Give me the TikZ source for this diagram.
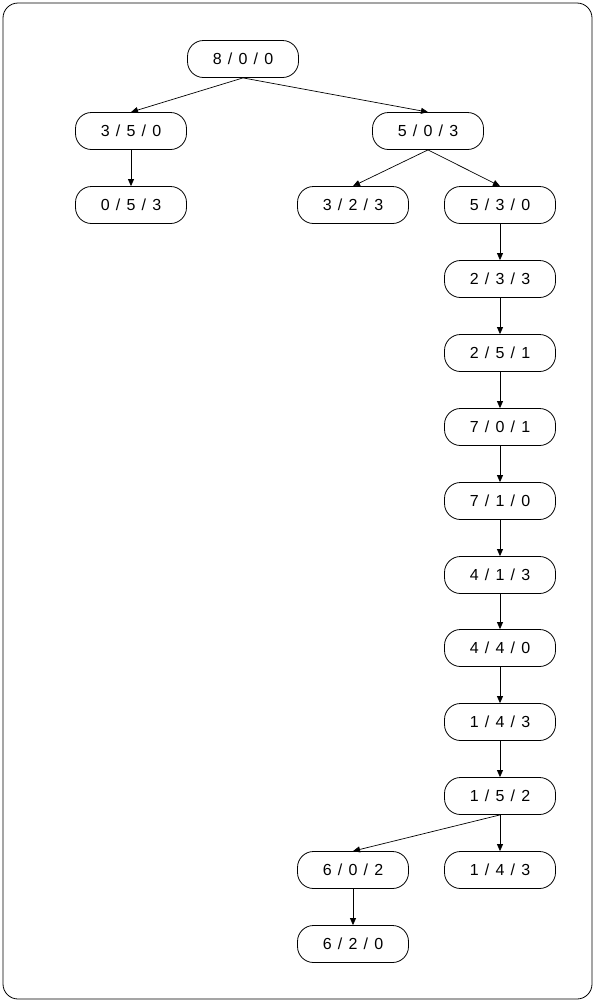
\documentclass[tikz,border=0pt]{standalone}
\usepackage{fontspec}
\setmainfont{Liberation Sans}
\usetikzlibrary{arrows.meta}
\newcommand\slsep{\hspace{6.2pt}/\hspace{6.2pt}}
\tikzset{
  st/.style={draw, line width=0.8pt, rounded corners=16pt, minimum width=111pt, minimum height=37pt, inner sep=0pt, font=\fontsize{16pt}{18pt}\selectfont},
  arr/.style={draw, line width=0.7pt, -{Triangle[length=7pt,width=6pt]}}
}
\begin{document}
\begin{tikzpicture}[x=1pt,y=-1pt]
\useasboundingbox (0,0) rectangle (595,1002);
\draw[line width=0.8pt, rounded corners=15pt] (3,3) rectangle (592,999);
\node[st] (a) at (243,59) {8\slsep 0\slsep 0};
\node[st] (b) at (131,131) {3\slsep 5\slsep 0};
\node[st] (c) at (428,131) {5\slsep 0\slsep 3};
\node[st] (d) at (131,205) {0\slsep 5\slsep 3};
\node[st] (e) at (353,205) {3\slsep 2\slsep 3};
\node[st] (f) at (500,205) {5\slsep 3\slsep 0};
\node[st] (g) at (500,279) {2\slsep 3\slsep 3};
\node[st] (h) at (500,353) {2\slsep 5\slsep 1};
\node[st] (i) at (500,427) {7\slsep 0\slsep 1};
\node[st] (j) at (500,501) {7\slsep 1\slsep 0};
\node[st] (k) at (500,575) {4\slsep 1\slsep 3};
\node[st] (l) at (500,648) {4\slsep 4\slsep 0};
\node[st] (m) at (500,722) {1\slsep 4\slsep 3};
\node[st] (n) at (500,796) {1\slsep 5\slsep 2};
\node[st] (o) at (353,870) {6\slsep 0\slsep 2};
\node[st] (p) at (500,870) {1\slsep 4\slsep 3};
\node[st] (q) at (353,944) {6\slsep 2\slsep 0};
\foreach \u/\v in {a/b,a/c,b/d,c/e,c/f,f/g,g/h,h/i,i/j,j/k,k/l,l/m,m/n,n/o,n/p,o/q}
  \draw[arr] (\u.south) -- (\v.north);
\end{tikzpicture}
\end{document}
